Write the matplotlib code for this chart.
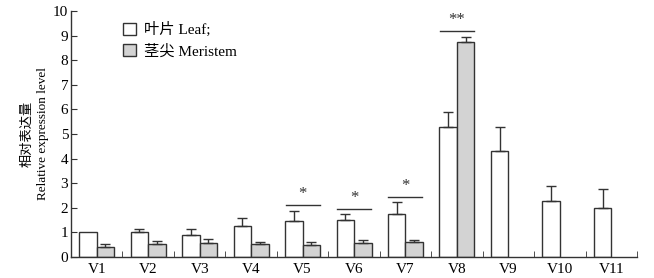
import numpy as np
import matplotlib.pyplot as plt

plt.rcParams['font.family'] = ['Liberation Serif', 'Noto Sans CJK SC']

groups = ['V1', 'V2', 'V3', 'V4', 'V5', 'V6', 'V7', 'V8', 'V9', 'V10', 'V11']
leaf = [1.0, 1.0, 0.89, 1.26, 1.48, 1.5, 1.75, 5.27, 4.3, 2.28, 1.99]
leaf_err = [0.0, 0.12, 0.25, 0.31, 0.39, 0.25, 0.47, 0.61, 0.97, 0.59, 0.77]
meristem = [0.42, 0.52, 0.56, 0.52, 0.5, 0.56, 0.62, 8.74]
meristem_err = [0.1, 0.12, 0.17, 0.1, 0.1, 0.12, 0.08, 0.22]

# significance marks: group index, line height, label
sig_groups = [4, 5, 6, 7]
sig_heights = [2.11, 1.97, 2.45, 9.19]
sig_labels = ['*', '*', '*', '**']

x = np.arange(1, len(groups) + 1)
w = 0.34
ec = '#333333'

fig = plt.figure(figsize=(6.54, 2.78), dpi=100)
ax = fig.add_axes([0.1086, 0.0755, 0.8654, 0.885])

ax.bar(x - w / 2, leaf, w, color='white', edgecolor=ec, linewidth=1,
       label='叶片 Leaf;')
# V1 is the reference sample, no error bar
ax.errorbar(x[1:] - w / 2, leaf[1:],
            yerr=[np.zeros(len(leaf) - 1), leaf_err[1:]], fmt='none',
            ecolor=ec, elinewidth=1, capsize=3.5, capthick=1)

xm = x[:len(meristem)]
ax.bar(xm + w / 2, meristem, w, color='#d3d3d3', edgecolor=ec,
       linewidth=1, label='茎尖 Meristem')
ax.errorbar(xm + w / 2, meristem,
            yerr=[np.zeros(len(meristem)), meristem_err], fmt='none',
            ecolor=ec, elinewidth=1, capsize=3.5, capthick=1)

for g, h, s in zip(sig_groups, sig_heights, sig_labels):
    xc = x[g]
    ax.plot([xc - 0.33, xc + 0.33], [h, h], color=ec, linewidth=1)
    ax.text(xc, h + 0.12, s, ha='center', va='bottom', fontsize=12,
            color=ec)

ax.set_xlim(0.5, 11.5)
ax.set_ylim(0, 10)
ax.set_yticks(range(0, 11))
ax.set_xticks(x)
ax.set_xticklabels(groups)
ax.set_xticks(np.arange(1.5, 12, 1), minor=True)
ax.tick_params(axis='x', which='major', length=0, pad=4, labelsize=11)
ax.tick_params(axis='x', which='minor', direction='in', length=4, color=ec)
ax.tick_params(axis='y', direction='in', length=4, color=ec, labelsize=11,
               pad=2)

for s in ['top', 'right']:
    ax.spines[s].set_visible(False)
for s in ['left', 'bottom']:
    ax.spines[s].set_color(ec)
    ax.spines[s].set_linewidth(1)

ax.set_ylabel('相对表达量\nRelative expression level', fontsize=9.5,
              labelpad=3, linespacing=1.35)

ax.legend(loc='upper left', bbox_to_anchor=(0.068, 1.01), frameon=False,
          fontsize=11, handlelength=0.85, handleheight=0.85,
          handletextpad=0.5, labelspacing=0.45)

fig.savefig('out.png', dpi=100)
